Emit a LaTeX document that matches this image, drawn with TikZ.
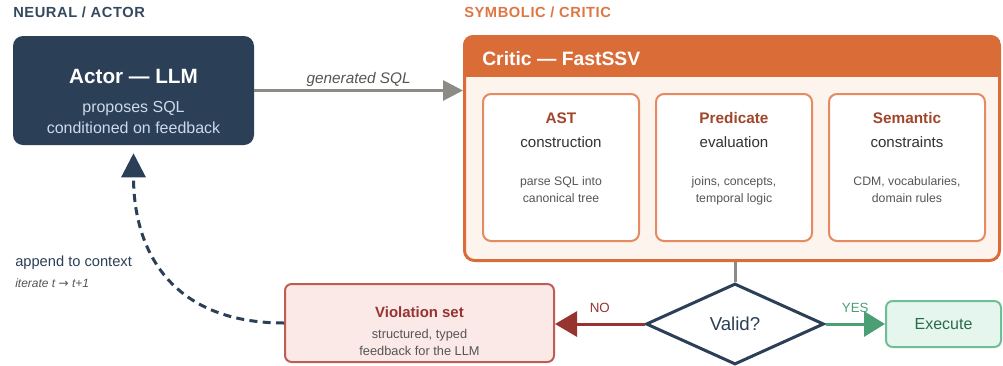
\documentclass[tikz,border=0pt]{standalone}
\usepackage{fontspec}
\setmainfont{Liberation Sans}
\newfontfamily\arrowfont{DejaVu Sans}
\usetikzlibrary{arrows.meta,shapes.geometric}

\definecolor{navy}{RGB}{43,63,87}
\definecolor{navylight}{RGB}{205,218,235}
\definecolor{lanenavy}{RGB}{52,73,94}
\definecolor{critorange}{RGB}{218,108,56}
\definecolor{lanorange}{RGB}{222,118,66}
\definecolor{critfill}{RGB}{253,244,238}
\definecolor{subedge}{RGB}{230,138,98}
\definecolor{subtitle}{RGB}{160,70,42}
\definecolor{textdark}{RGB}{50,50,50}
\definecolor{textgray}{RGB}{85,85,85}
\definecolor{flowgray}{RGB}{140,140,132}
\definecolor{violred}{RGB}{150,52,48}
\definecolor{violedge}{RGB}{190,92,86}
\definecolor{violfill}{RGB}{251,233,232}
\definecolor{okgreen}{RGB}{74,160,116}
\definecolor{execfill}{RGB}{228,246,237}
\definecolor{execedge}{RGB}{112,190,150}
\definecolor{exectext}{RGB}{45,105,78}

\tikzset{
  lane/.style={inner sep=0pt, anchor=base west,
    font=\fontsize{11}{13}\selectfont\bfseries\addfontfeature{LetterSpace=4}},
  txt/.style={inner sep=0pt, anchor=base},
  actorbox/.style={rectangle, rounded corners=7.5pt, fill=navy,
    minimum width=180.75pt, minimum height=81.75pt},
  criticbox/.style={rectangle, rounded corners=7.5pt, draw=critorange, fill=critfill,
    line width=2.25pt, minimum width=401.25pt, minimum height=168pt},
  subbox/.style={rectangle, rounded corners=6pt, draw=subedge, fill=white,
    line width=1.5pt, minimum width=117pt, minimum height=110.25pt},
  violbox/.style={rectangle, rounded corners=5pt, draw=violedge, fill=violfill,
    line width=1.5pt, minimum width=201.75pt, minimum height=58.5pt},
  execbox/.style={rectangle, rounded corners=5pt, draw=execedge, fill=execfill,
    line width=1.5pt, minimum width=86.25pt, minimum height=34.5pt,
    text=exectext, font=\fontsize{12}{14}\selectfont},
  decision/.style={diamond, draw=navy, fill=white, line width=2.25pt, inner sep=0pt,
    aspect=2.2, minimum width=133.5pt, minimum height=60.75pt,
    text=navy, font=\fontsize{14}{16}\selectfont},
  flow/.style={draw=flowgray, line width=2.25pt},
  noarrow/.style={draw=violred, line width=2.25pt, -{Triangle[length=16.5pt,width=18.75pt]}},
  yesarrow/.style={draw=okgreen, line width=2.25pt, -{Triangle[length=15.75pt,width=18.75pt]}},
  feedback/.style={draw=navy, line width=2.25pt, dash pattern=on 6pt off 4pt,
    shorten >=6pt, -{Triangle[length=18pt,width=18pt]}},
}

\begin{document}
\begin{tikzpicture}[x=0.75pt,y=-0.75pt]
  \useasboundingbox (0,0) rectangle (1003,365);

  % lanes
  \node[lane, text=lanenavy] (neurallane) at (13,17) {NEURAL / ACTOR};
  \node[lane, text=lanorange] (symboliclane) at (464,17) {SYMBOLIC / CRITIC};

  % actor
  \node[actorbox] (actor) at (133.5,90.5) {};
  \node[txt, text=white, font=\fontsize{15.5}{18}\selectfont\bfseries] (actortitle) at (133.5,83) {Actor — LLM};
  \node[txt, text=navylight, font=\fontsize{12}{14}\selectfont] (actorlinea) at (133.5,112) {proposes SQL};
  \node[txt, text=navylight, font=\fontsize{12}{14}\selectfont] (actorlineb) at (133.5,133) {conditioned on feedback};

  % critic
  \node[criticbox] (critic) at (732,148.5) {};
  \begin{scope}
    \clip[rounded corners=7.5pt] (critic.north west) rectangle (critic.south east);
    \fill[critorange] (critic.north west) rectangle (1001,77);
  \end{scope}
  \node[txt, anchor=base west, text=white, font=\fontsize{14.5}{17}\selectfont\bfseries] (critictitle) at (482,65) {Critic — FastSSV};

  \foreach \cx/\nm/\head/\sub/\la/\lb in {
      561/ast/AST/construction/{parse SQL into}/{canonical tree},
      734/pred/Predicate/evaluation/{joins, concepts,}/{temporal logic},
      907/sem/Semantic/constraints/{CDM, vocabularies,}/{domain rules}}{
    \node[subbox] (\nm) at (\cx,167.5) {};
    \node[txt, text=subtitle, font=\fontsize{11.5}{14}\selectfont\bfseries] (\nm-head) at (\cx,123) {\head};
    \node[txt, text=textdark, font=\fontsize{11.3}{14}\selectfont] (\nm-sub) at (\cx,147) {\sub};
    \node[txt, text=textgray, font=\fontsize{9.2}{11}\selectfont] (\nm-la) at (\cx,185) {\la};
    \node[txt, text=textgray, font=\fontsize{9.2}{11}\selectfont] (\nm-lb) at (\cx,202) {\lb};
  }

  % decision and outcomes
  \node[decision] (valid) at (735,324) {Valid?};
  \node[violbox] (viol) at (419.5,323) {};
  \node[txt, text=violred, font=\fontsize{11.2}{14}\selectfont\bfseries] (violtitle) at (419.5,317) {Violation set};
  \node[txt, text=textgray, font=\fontsize{9.6}{12}\selectfont] (violla) at (419.5,338) {structured, typed};
  \node[txt, text=textgray, font=\fontsize{9.6}{12}\selectfont] (violb) at (419.5,355) {feedback for the LLM};
  \node[execbox] (exec) at (943.5,324) {Execute};

  % connectors
  \draw[flow, -{Triangle[length=15pt,width=15pt]}] (actor.east) --
    node[above=2pt, inner sep=0pt, text=textgray, font=\fontsize{11.5}{14}\selectfont\itshape] (sqllabel) {generated SQL}
    (actor.east -| critic.west);
  \draw[flow] (valid.north |- critic.south) -- (valid.north);
  \draw[noarrow] (valid.west) --
    node[above=4pt, text=violred, font=\fontsize{10}{12}\selectfont] (nolabel) {NO}
    (valid.west -| viol.east);
  \draw[yesarrow] (valid.east) --
    node[above=4pt, text=okgreen, font=\fontsize{10}{12}\selectfont] (yeslabel) {YES}
    (valid.east -| exec.west);
  \draw[feedback] (viol.west) .. controls +(-109,0) and +(0,110) .. (actor.south);

  % loop note
  \node[txt, anchor=base west, text=navy, font=\fontsize{11}{13}\selectfont] (appendnote) at (15,266) {append to context};
  \node[txt, anchor=base west, text=textgray, font=\fontsize{9}{11}\selectfont\itshape] (iternote) at (15,287) {iterate t {\arrowfont\upshape →} t+1};
\end{tikzpicture}
\end{document}
